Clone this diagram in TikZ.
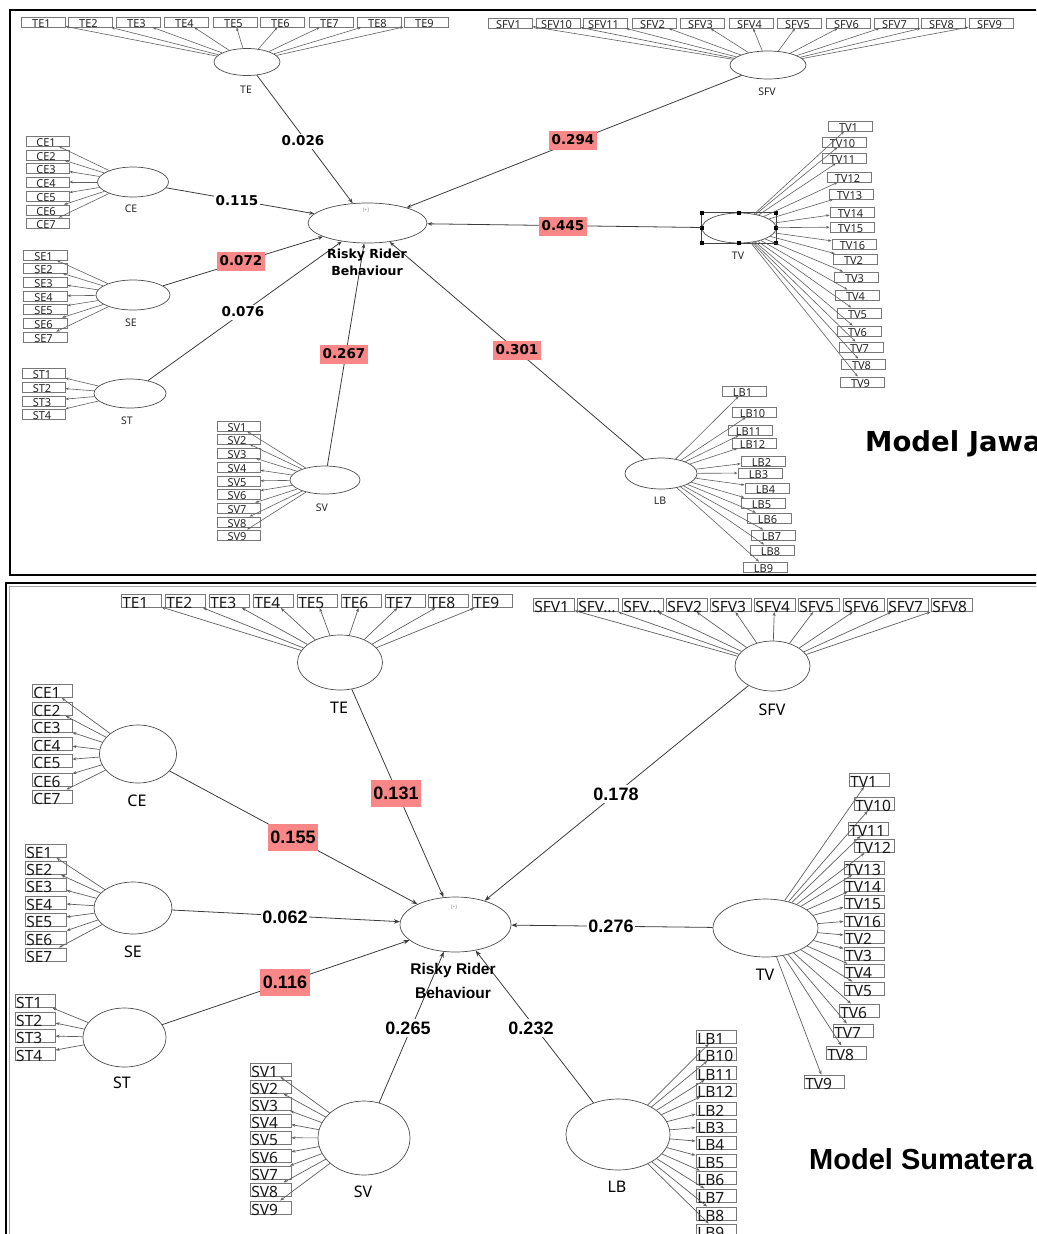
\documentclass[tikz,border=0pt]{standalone}
\usepackage{fontspec}
\setmainfont{Noto Sans}
\newfontfamily\wfont{DejaVu Sans}
\newfontfamily\afont{Liberation Sans}
\usetikzlibrary{arrows.meta,shapes.geometric}

\definecolor{hl}{RGB}{250,135,135}
\definecolor{sline}{RGB}{60,60,60}
\definecolor{mline}{RGB}{95,95,95}
\definecolor{bline}{RGB}{120,120,120}

% indicator box of the upper model: name, x-left, x-right, y-top, text
\newcommand{\JBox}[5]{%
  \node[jbox, minimum width={#3-(#2)}] (#1) at ({((#2)+(#3))/2},{#4+5}) {};
  \node[jtext] (#1-t) at ([xshift=-1.5pt]#1.south) {#5};}
% indicator box of the lower model: name, x-left, width, y-top, text
\newcommand{\SBox}[5]{%
  \node[sbox, minimum width={#3}] (#1) at ({#2+#3/2},{#4+6.75}) {};
  \node[stext] (#1-t) at ([xshift=1.5pt,yshift=-1pt]#1.south west) {#5};}
% latent variable: name, x, y, rx, ry
\newcommand{\Latent}[5]{%
  \node[latent, minimum width={2*#4}, minimum height={2*#5}] (#1) at (#2,#3) {};}

\tikzset{
  latent/.style={ellipse, draw=black!70, line width=0.7pt, fill=white, inner sep=0pt},
  jbox/.style={rectangle, draw=bline, line width=0.8pt, fill=white, minimum height=10pt, inner sep=0pt},
  sbox/.style={rectangle, draw=bline, line width=0.9pt, fill=white, minimum height=13.5pt, inner sep=0pt},
  jtext/.style={anchor=base, inner sep=0pt, font=\fontsize{11}{12}\selectfont, text=black!85},
  stext/.style={anchor=base west, inner sep=0pt, font=\fontsize{15.5}{16}\selectfont, text=black!90},
  jlat/.style={inner sep=0pt, font=\fontsize{10.5}{12}\selectfont, text=black!85},
  slat/.style={inner sep=0pt, font=\fontsize{16}{18}\selectfont},
  meas/.style={draw=mline, line width=0.6pt, -{Stealth[length=3.5pt,width=2.6pt]}},
  smeas/.style={draw=mline, line width=0.7pt, -{Stealth[length=4pt,width=3pt]}},
  jpath/.style={draw=sline, line width=0.8pt, -{Stealth[length=5pt,width=3.6pt]}},
  spath/.style={draw=sline, line width=0.8pt, -{Stealth[length=6pt,width=4.4pt]}},
  jcoef/.style={inner xsep=1.5pt, inner ysep=0pt, minimum height=15pt, fill=white, font=\wfont\bfseries\fontsize{13.5}{14}\selectfont},
  jhi/.style={jcoef, fill=hl, inner xsep=2.2pt, minimum height=19pt},
  scoef/.style={inner xsep=1.5pt, inner ysep=0pt, minimum height=18pt, fill=white, font=\afont\bfseries\fontsize{18}{19}\selectfont},
  shi/.style={scoef, fill=hl, inner xsep=2.5pt, minimum height=27pt},
  jname/.style={inner sep=0pt, font=\wfont\bfseries\fontsize{12.5}{13}\selectfont},
  sname/.style={inner sep=0pt, font=\afont\bfseries\fontsize{15.5}{17}\selectfont},
  icon/.style={inner sep=0pt, font=\fontsize{4.5}{5}\selectfont, text=black!55},
}

\begin{document}
\begin{tikzpicture}[x=1pt, y=-1pt]
\useasboundingbox (0,0) rectangle (1036,1234);
\clip (0,0) rectangle (1036,1234);

% panel frames
\draw[line width=2.6pt] (10,10) rectangle (1060,575);
\draw[line width=2pt] (6,583) rectangle (1060,1260);
\draw[black!35, line width=1pt] (9.5,586.5) rectangle (1060,1260);

% ================= Model Jawa =================
\Latent{jTE}{247}{62}{33}{13.5}
\Latent{jSFV}{768}{65}{38}{14}
\Latent{jCE}{133}{182}{35.5}{15}
\Latent{jSE}{133}{295}{37}{15}
\Latent{jST}{130}{393.5}{36}{14.5}
\Latent{jSV}{325}{480}{35}{14}
\Latent{jLB}{661}{473.5}{36}{15.5}
\Latent{jTV}{739}{228}{37}{15}
\Latent{jRRB}{367.5}{223}{59.5}{20}

\node[jlat] (jTE-l) at (246,90) {TE};
\node[jlat] (jSFV-l) at (767,92) {SFV};
\node[jlat] (jCE-l) at (131,209) {CE};
\node[jlat] (jSE-l) at (131,323) {SE};
\node[jlat] (jST-l) at (127,421) {ST};
\node[jlat] (jSV-l) at (322,508) {SV};
\node[jlat] (jLB-l) at (660,501) {LB};
\node[jlat] (jTV-l) at (738,256) {TV};
\node[icon] (jRRB-i) at (366,210) {[+]};

% selection frame around TV
\draw[black!75, line width=0.8pt] (jTV.west |- jTV.north) rectangle (jTV.east |- jTV.south);
\foreach \hx/\hy in {702/213, 739/213, 776/213, 702/228, 776/228, 702/243, 739/243, 776/243}
  \fill ({\hx-1.7},{\hy-1.7}) rectangle ({\hx+1.7},{\hy+1.7});

% indicators
\foreach \i/\xa in {1/21,2/68,3/116,4/164,5/213,6/260,7/309,8/357,9/404}
  {\JBox{jTE\i}{\xa}{\xa+44}{17}{TE\i}}
\foreach \i/\t/\xa in {1/SFV1/488, 2/SFV10/536, 3/SFV11/583, 4/SFV2/632, 5/SFV3/680, 6/SFV4/729, 7/SFV5/777, 8/SFV6/826, 9/SFV7/874, 10/SFV8/921, 11/SFV9/969}
  {\JBox{jSFV\i}{\xa}{\xa+44}{18}{\t}}
\foreach \i/\yt in {1/136,2/150,3/163,4/177,5/191,6/205,7/218}
  {\JBox{jCE\i}{26}{69}{\yt}{CE\i}}
\foreach \i/\yt in {1/250,2/263,3/277,4/291,5/304,6/318,7/332}
  {\JBox{jSE\i}{23}{67}{\yt}{SE\i}}
\foreach \i/\yt in {1/368,2/382,3/396,4/409}
  {\JBox{jST\i}{22}{65}{\yt}{ST\i}}
\foreach \i/\yt in {1/421,2/434,3/448,4/462,5/476,6/489,7/503,8/517,9/530}
  {\JBox{jSV\i}{217}{260}{\yt}{SV\i}}
\foreach \i/\t/\xa/\yt in {1/TV1/828/121, 2/TV10/822/137, 3/TV11/822/153, 4/TV12/827/172, 5/TV13/829/189, 6/TV14/830/207, 7/TV15/830/222, 8/TV16/832/239, 9/TV2/833/254, 10/TV3/834/272, 11/TV4/835/290, 12/TV5/837/308, 13/TV6/837/326, 14/TV7/839/342, 15/TV8/841/359, 16/TV9/840/377}
  {\JBox{jTV\i}{\xa}{\xa+44}{\yt}{\t}}
\foreach \i/\t/\xa/\yt in {1/LB1/722/386, 2/LB10/732/407, 3/LB11/728/425, 4/LB12/732/438, 5/LB2/741/456, 6/LB3/738/468, 7/LB4/745/483, 8/LB5/741/498, 9/LB6/747/513, 10/LB7/751/530, 11/LB8/750/545, 12/LB9/743/562}
  {\JBox{jLB\i}{\xa}{\xa+44}{\yt}{\t}}

% outer loadings
\foreach \i in {1,...,9} \draw[meas] (jTE) -- (jTE\i);
\foreach \i in {1,...,11} \draw[meas] (jSFV) -- (jSFV\i);
\foreach \i in {1,...,7} \draw[meas] (jCE) -- (jCE\i);
\foreach \i in {1,...,7} \draw[meas] (jSE) -- (jSE\i);
\foreach \i in {1,...,4} \draw[meas] (jST) -- (jST\i);
\foreach \i in {1,...,9} \draw[meas] (jSV) -- (jSV\i);
\foreach \i in {1,...,16} \draw[meas] (jTV) -- (jTV\i);
\foreach \i in {1,...,12} \draw[meas] (jLB) -- (jLB\i);

% structural paths
\foreach \v in {TE,CE,SE,ST,SV,SFV,TV,LB} \draw[jpath] (j\v) -- (jRRB);
\node[jcoef] (jcTE) at (303,141) {0.026};
\node[jcoef] (jcCE) at (237,201) {0.115};
\node[jhi] (jcSE) at (241,261) {0.072};
\node[jcoef] (jcST) at (243,312) {0.076};
\node[jhi] (jcSV) at (344,354) {0.267};
\node[jhi] (jcSFV) at (573,140) {0.294};
\node[jhi] (jcTV) at (563,226) {0.445};
\node[jhi] (jcLB) at (517,350) {0.301};

\node[jname] (jRRB-a) at (367,255) {Risky Rider};
\node[jname] (jRRB-b) at (367,271) {Behaviour};
\node[anchor=west, inner sep=0pt, font=\wfont\bfseries\fontsize{27.5}{29}\selectfont] (jTitle) at (865,444) {Model Jawa};

% ================= Model Sumatera =================
\Latent{sTE}{340}{662.5}{42.5}{27.5}
\Latent{sSFV}{772.5}{666}{37.5}{25}
\Latent{sCE}{138}{754}{38.5}{29}
\Latent{sSE}{133}{908}{39}{26}
\Latent{sST}{124.5}{1037.5}{41.5}{29.5}
\Latent{sSV}{364}{1138}{46}{37}
\Latent{sLB}{618}{1134.5}{52}{35.5}
\Latent{sTV}{765.5}{928}{52.5}{29}
\Latent{sRRB}{455.5}{924.5}{55.5}{27.5}

\node[slat] (sTE-l) at (339,708) {TE};
\node[slat] (sSFV-l) at (772,710) {SFV};
\node[slat] (sCE-l) at (137,801) {CE};
\node[slat] (sSE-l) at (133,952) {SE};
\node[slat] (sST-l) at (122,1083) {ST};
\node[slat] (sSV-l) at (363,1192) {SV};
\node[slat] (sLB-l) at (617,1187) {LB};
\node[slat] (sTV-l) at (765,975) {TV};
\node[icon] (sRRB-i) at (454,907) {[+]};

\foreach \i/\xa in {1/121,2/165,3/209,4/253,5/297,6/341,7/385,8/428,9/472}
  {\SBox{sTE\i}{\xa}{40}{594}{TE\i}}
\foreach \i/\t/\xa in {1/SFV1/533, 2/SFV…/577, 3/SFV…/622, 4/SFV2/666, 5/SFV3/710, 6/SFV4/754, 7/SFV5/798, 8/SFV6/843, 9/SFV7/887, 10/SFV8/931}
  {\SBox{sSFV\i}{\xa}{41}{598}{\t}}
\foreach \i/\yt in {1/684,2/702,3/719,4/737,5/754,6/773,7/790}
  {\SBox{sCE\i}{32}{40}{\yt}{CE\i}}
\foreach \i/\yt in {1/844,2/861,3/878,4/896,5/913,6/931,7/948}
  {\SBox{sSE\i}{25}{41}{\yt}{SE\i}}
\foreach \i/\yt in {1/994,2/1012,3/1029,4/1047}
  {\SBox{sST\i}{15}{40}{\yt}{ST\i}}
\foreach \i/\yt in {1/1063,2/1080,3/1097,4/1114,5/1131,6/1149,7/1166,8/1183,9/1201}
  {\SBox{sSV\i}{250}{41}{\yt}{SV\i}}
\foreach \i/\t/\yt in {1/LB1/1030, 2/LB10/1047, 3/LB11/1066, 4/LB12/1083, 5/LB2/1102, 6/LB3/1119, 7/LB4/1136, 8/LB5/1154, 9/LB6/1171, 10/LB7/1189, 11/LB8/1207, 12/LB9/1224}
  {\SBox{sLB\i}{696}{40}{\yt}{\t}}
\foreach \i/\t/\xa/\yt in {1/TV1/849/773, 2/TV10/854/797, 3/TV11/848/822, 4/TV12/854/839, 5/TV13/844/861, 6/TV14/844/878, 7/TV15/844/895, 8/TV16/844/913, 9/TV2/844/930, 10/TV3/844/947, 11/TV4/844/964, 12/TV5/844/982, 13/TV6/839/1004, 14/TV7/833/1024, 15/TV8/826/1046, 16/TV9/804/1075}
  {\SBox{sTV\i}{\xa}{40}{\yt}{\t}}

\foreach \i in {1,...,9} \draw[smeas] (sTE) -- (sTE\i);
\foreach \i in {1,...,10} \draw[smeas] (sSFV) -- (sSFV\i);
\foreach \i in {1,...,7} \draw[smeas] (sCE) -- (sCE\i);
\foreach \i in {1,...,7} \draw[smeas] (sSE) -- (sSE\i);
\foreach \i in {1,...,4} \draw[smeas] (sST) -- (sST\i);
\foreach \i in {1,...,9} \draw[smeas] (sSV) -- (sSV\i);
\foreach \i in {1,...,16} \draw[smeas] (sTV) -- (sTV\i);
\foreach \i in {1,...,12} \draw[smeas] (sLB) -- (sLB\i);

\foreach \v in {TE,CE,SE,ST,SV,SFV,TV,LB} \draw[spath] (s\v) -- (sRRB);
\node[shi] (scTE) at (396,793) {0.131};
\node[shi] (scCE) at (293,837) {0.155};
\node[scoef] (scSE) at (285,917) {0.062};
\node[shi] (scST) at (285,982) {0.116};
\node[scoef] (scSV) at (408,1028) {0.265};
\node[scoef] (scLB) at (531,1028) {0.232};
\node[scoef] (scSFV) at (616,794) {0.178};
\node[scoef] (scTV) at (611,926) {0.276};

\node[sname] (sRRB-a) at (453,970) {Risky Rider};
\node[sname] (sRRB-b) at (453,993) {Behaviour};
\node[anchor=west, inner sep=0pt, font=\afont\bfseries\fontsize{29}{31}\selectfont] (sTitle) at (809,1159) {Model Sumatera};
\end{tikzpicture}
\end{document}
